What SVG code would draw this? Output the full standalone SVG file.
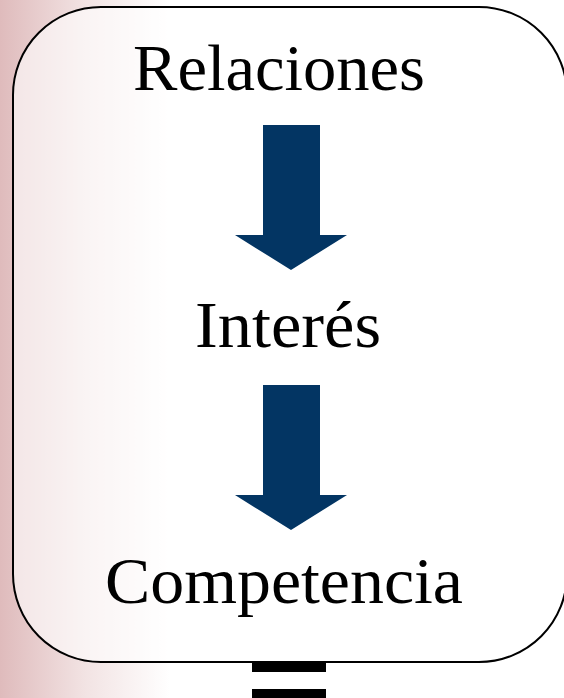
<svg xmlns="http://www.w3.org/2000/svg" width="564" height="698" viewBox="0 0 564 698">
<defs>
<linearGradient id="bg" x1="0" y1="0" x2="170" y2="0" gradientUnits="userSpaceOnUse">
<stop offset="0" stop-color="#dfbbbc"/>
<stop offset="0.5" stop-color="#f2e3e3"/>
<stop offset="1" stop-color="#ffffff"/>
</linearGradient>
<style>
.lbl{font-family:"Liberation Serif","DejaVu Serif",serif;font-size:66px;fill:#000;text-anchor:middle}
.arrow{fill:#033563}
.bar{fill:#000}
</style>
</defs>
<rect x="0" y="0" width="564" height="698" fill="url(#bg)"/>
<g id="frame">
<rect x="13" y="7" width="554" height="655" rx="88" ry="88" fill="#ffffff" fill-opacity="0.6" stroke="#000" stroke-width="2"/>
</g>
<g id="relaciones"><text class="lbl" x="279" y="90" textLength="292" lengthAdjust="spacingAndGlyphs">Relaciones</text></g>
<g id="interes"><text class="lbl" x="288" y="347" textLength="186" lengthAdjust="spacingAndGlyphs">Interés</text></g>
<g id="competencia"><text class="lbl" x="284" y="603" textLength="358" lengthAdjust="spacingAndGlyphs">Competencia</text></g>
<g id="connectors">
<polygon class="arrow" points="263,125 320,125 320,235 347,235 291,270 235,235 263,235"/>
<polygon class="arrow" points="263,385 320,385 320,495 347,495 291,530 235,495 263,495"/>
<rect class="bar" x="252" y="663" width="74" height="9"/>
<rect class="bar" x="252" y="689" width="74" height="9"/>
</g>
</svg>
